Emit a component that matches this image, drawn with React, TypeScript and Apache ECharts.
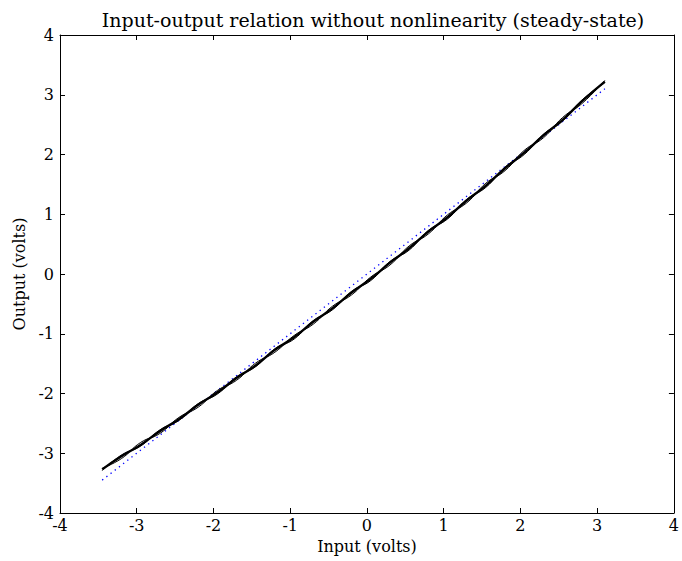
import React, { useEffect, useRef } from "react";
import * as echarts from "echarts";

const titleText = "Input-output relation without nonlinearity (steady-state)";
const xAxisName = "Input (volts)";
const yAxisName = "Output (volts)";

const inputX = [
  -3.45, -3.2, -2.95, -2.7, -2.45, -2.2, -1.95, -1.7, -1.45, -1.2, -0.95, -0.7, -0.45, -0.2,
  0.05, 0.3, 0.55, 0.8, 1.05, 1.3, 1.55, 1.8, 2.05, 2.3, 2.55, 2.8, 3.1,
];
const outputMain = [
  -3.27, -3.05, -2.86, -2.63, -2.43, -2.19, -1.985, -1.74, -1.53, -1.27, -1.06, -0.8, -0.575, -0.31,
  -0.08, 0.19, 0.43, 0.71, 0.95, 1.23, 1.48, 1.77, 2.03, 2.32, 2.58, 2.89, 3.22,
];
const outputRunA = [
  -3.25, -3.09, -2.82, -2.67, -2.4, -2.23, -1.95, -1.78, -1.49, -1.31, -1.03, -0.84, -0.54, -0.35,
  -0.05, 0.15, 0.47, 0.67, 0.99, 1.19, 1.52, 1.73, 2.07, 2.28, 2.62, 2.85, 3.24,
];
const outputRunB = [
  -3.29, -3.03, -2.88, -2.61, -2.45, -2.17, -2.01, -1.72, -1.55, -1.25, -1.09, -0.78, -0.6, -0.29,
  -0.11, 0.21, 0.4, 0.73, 0.92, 1.25, 1.45, 1.79, 2.0, 2.34, 2.56, 2.91, 3.2,
];
const idealX = [-3.45, 3.1];
const idealY = [-3.45, 3.1];

const FONT = "DejaVu Serif";

export default function App() {
  const ref = useRef<HTMLDivElement>(null);
  useEffect(() => {
    if (!ref.current) return;
    const chart = echarts.init(ref.current, undefined, { renderer: "svg" });
    const pair = (xs: number[], ys: number[]) => xs.map((x, i) => [x, ys[i]]);
    const axisCommon = {
      type: "value" as const,
      min: -4,
      max: 4,
      interval: 1,
      splitLine: { show: false },
      axisLine: { show: true, onZero: false, lineStyle: { color: "#000", width: 1 } },
      axisTick: { show: true, inside: true, length: 5, lineStyle: { color: "#000" } },
    };
    chart.setOption({
      animation: false,
      backgroundColor: "#fff",
      title: {
        text: titleText,
        left: 368,
        top: 5,
        textAlign: "center",
        textStyle: { fontFamily: FONT, fontSize: 19, fontWeight: "normal", color: "#000" },
      },
      grid: { left: 60, right: 6, top: 35, bottom: 48 },
      xAxis: [
        {
          ...axisCommon,
          position: "bottom",
          name: xAxisName,
          nameLocation: "middle",
          nameGap: 25,
          nameTextStyle: { fontFamily: FONT, fontSize: 16, color: "#000" },
          axisLabel: { fontFamily: FONT, fontSize: 16, color: "#000", margin: 4 },
        },
        { ...axisCommon, position: "top", axisLabel: { show: false } },
      ],
      yAxis: [
        {
          ...axisCommon,
          position: "left",
          name: yAxisName,
          nameLocation: "middle",
          nameGap: 32,
          nameTextStyle: { fontFamily: FONT, fontSize: 16, color: "#000" },
          axisLabel: { fontFamily: FONT, fontSize: 16, color: "#000", margin: 6 },
        },
        { ...axisCommon, position: "right", axisLabel: { show: false } },
      ],
      series: [
        {
          type: "line",
          data: pair(idealX, idealY),
          symbol: "none",
          lineStyle: { color: "#0000ff", width: 1.3, type: [1.3, 4] },
          z: 1,
        },
        {
          type: "line",
          data: pair(inputX, outputRunA),
          symbol: "none",
          smooth: true,
          lineStyle: { color: "#000", width: 1 },
          z: 2,
        },
        {
          type: "line",
          data: pair(inputX, outputRunB),
          symbol: "none",
          smooth: true,
          lineStyle: { color: "#000", width: 1 },
          z: 2,
        },
        {
          type: "line",
          data: pair(inputX, outputMain),
          symbol: "none",
          smooth: true,
          lineStyle: { color: "#000", width: 2.4 },
          z: 3,
        },
      ],
    });
    return () => chart.dispose();
  }, []);
  return <div ref={ref} style={{ position: "fixed", left: 0, top: 0, width: 682, height: 561 }} />;
}
